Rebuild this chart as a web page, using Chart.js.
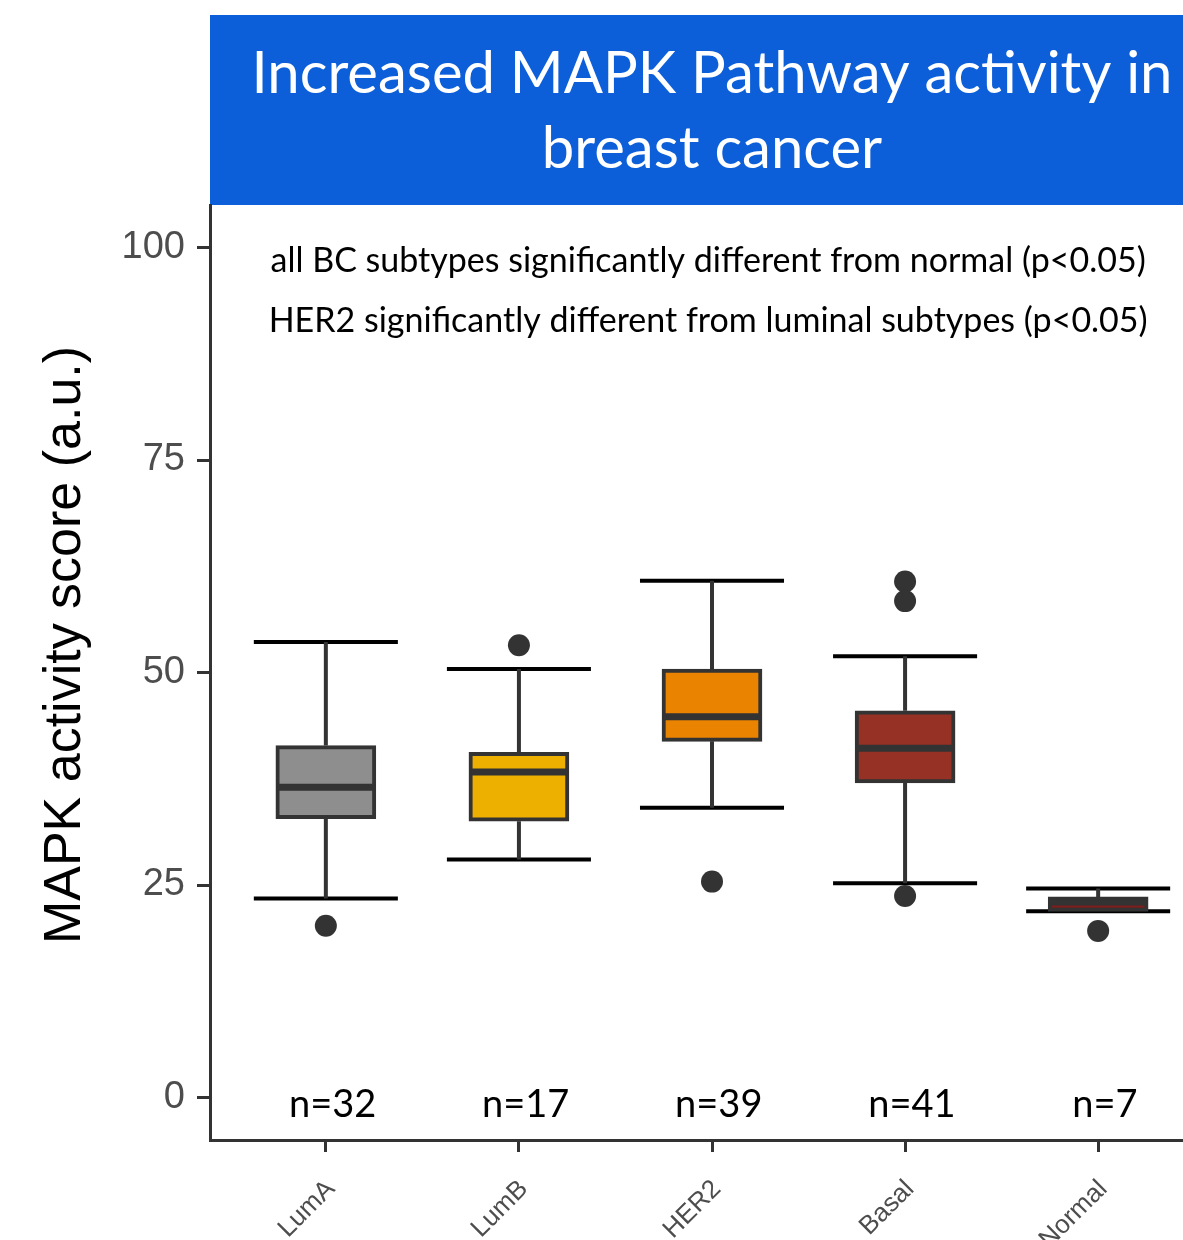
<!DOCTYPE html>
<html><head><meta charset="utf-8">
<script src="https://cdn.jsdelivr.net/npm/chart.js@4/dist/chart.umd.min.js"></script>
<style>html,body{margin:0;padding:0;background:#fff;overflow:hidden;}#wrap{width:1240px;height:1240px;}</style>
</head><body><div id="wrap"><canvas id="c" width="1240" height="1240"></canvas></div>
<script>
const categories = ['LumA', 'LumB', 'HER2', 'Basal', 'Normal'];
const whiskerLow = [23.4, 28.0, 34.1, 25.2, 21.9];
const q1 = [32.8, 32.5, 41.9, 37.0, 21.9];
const median = [36.5, 38.3, 44.8, 41.1, 23.0];
const q3 = [41.4, 40.6, 50.4, 45.5, 23.6];
const whiskerHigh = [53.6, 50.4, 60.8, 51.9, 24.6];
const outliers = [[20.2], [53.2], [25.4], [60.7, 58.4, 23.7], [19.6]];
const sampleSizes = [32, 17, 39, 41, 7];
const yTicks = [0, 25, 50, 75, 100];
const titleLines = ['Increased MAPK Pathway activity in', 'breast cancer'];
const notes = ['all BC subtypes significantly different from normal (p<0.05)',
               'HER2 significantly different from luminal subtypes (p<0.05)'];
const yTitle = 'MAPK activity score (a.u.)';
const boxColors = ['#8E8E8E', '#EDB000', '#E98300', '#963125', '#7A1E1E'];

const BOX_HALF = 0.25, CAP_HALF = 0.373;
const INK = '#333333';

function segments(list) {
  const out = [];
  list.forEach(([a, b]) => { out.push(a, b, {x: b.x, y: null}); });
  return out;
}

const whiskerData = segments(categories.flatMap((c, i) => [
  [{x: i, y: q3[i]}, {x: i, y: whiskerHigh[i]}],
  [{x: i, y: q1[i]}, {x: i, y: whiskerLow[i]}]
]));
const capData = segments(categories.flatMap((c, i) => [
  [{x: i - CAP_HALF, y: whiskerHigh[i]}, {x: i + CAP_HALF, y: whiskerHigh[i]}],
  [{x: i - CAP_HALF, y: whiskerLow[i]}, {x: i + CAP_HALF, y: whiskerLow[i]}]
]));
const medianData = segments(categories.map((c, i) =>
  [{x: i - BOX_HALF, y: median[i]}, {x: i + BOX_HALF, y: median[i]}]));
const boxData = categories.map((c, i) => ({x: i, y: [q1[i], q3[i]]}));
const outlierData = outliers.flatMap((arr, i) => arr.map(v => ({x: i, y: v})));

const bannerPlugin = {
  id: 'banner',
  beforeDraw(chart) {
    const {ctx, chartArea: a} = chart;
    ctx.save();
    ctx.fillStyle = '#0D5FD9';
    ctx.fillRect(a.left, 15, a.right - a.left, a.top - 15);
    ctx.fillStyle = '#ffffff';
    ctx.font = '58px Lato';
    ctx.textAlign = 'center';
    ctx.textBaseline = 'alphabetic';
    const cx = (a.left + a.right) / 2;
    ctx.fillText(titleLines[0], cx, 93);
    ctx.fillText(titleLines[1], cx, 168);
    // y axis title
    ctx.fillStyle = '#000000';
    ctx.font = '52px "Liberation Sans"';
    ctx.textBaseline = 'middle';
    ctx.translate(66, 645);
    ctx.rotate(-Math.PI / 2);
    ctx.fillText(yTitle, 0, 0);
    ctx.restore();
  },
  afterDatasetsDraw(chart) {
    const {ctx, scales: {x, y}} = chart;
    ctx.save();
    ctx.fillStyle = '#000000';
    ctx.textAlign = 'center';
    ctx.textBaseline = 'middle';
    ctx.font = '34px Lato';
    ctx.fillText(notes[0], x.getPixelForValue(1.98), y.getPixelForValue(98.4));
    ctx.fillText(notes[1], x.getPixelForValue(1.98), y.getPixelForValue(91.3));
    ctx.font = '38px Lato';
    sampleSizes.forEach((n, i) => {
      ctx.fillText('n=' + n, x.getPixelForValue(i + 0.035), y.getPixelForValue(-0.9));
    });
    ctx.restore();
  }
};

function build() {
  new Chart(document.getElementById('c'), {
    type: 'bar',
    data: {
      datasets: [
        {type: 'scatter', data: outlierData, pointRadius: 11, pointHoverRadius: 11,
         backgroundColor: INK, borderWidth: 0, order: 0},
        {type: 'line', data: medianData, borderColor: INK, borderWidth: 7, pointRadius: 0,
         fill: false, spanGaps: false, borderCapStyle: 'butt', order: 1},
        {type: 'bar', data: boxData, backgroundColor: boxColors, borderColor: INK,
         borderWidth: 4, borderSkipped: false, barThickness: 100, order: 2},
        {type: 'line', data: whiskerData, borderColor: INK, borderWidth: 4, pointRadius: 0,
         fill: false, spanGaps: false, borderCapStyle: 'butt', order: 3},
        {type: 'line', data: capData, borderColor: '#000000', borderWidth: 4, pointRadius: 0,
         fill: false, spanGaps: false, borderCapStyle: 'butt', order: 3}
      ]
    },
    options: {
      responsive: false,
      animation: false,
      layout: {padding: {top: 205, right: 26, left: 0, bottom: 0}},
      plugins: {legend: {display: false}, tooltip: {enabled: false}, title: {display: false}},
      scales: {
        x: {
          type: 'linear', min: -0.6, max: 4.6, offset: false,
          afterBuildTicks: s => { s.ticks = categories.map((c, i) => ({value: i})); },
          afterFit: s => { s.height = 100; },
          grid: {display: true, drawOnChartArea: false, offset: false, tickLength: 12,
                 tickColor: INK, tickWidth: 3},
          border: {display: true, color: INK, width: 3},
          ticks: {autoSkip: false, minRotation: 45, maxRotation: 45, padding: 22, labelOffset: 5,
                  color: '#4D4D4D', font: {family: 'Liberation Sans', size: 26},
                  callback: v => categories[v]}
        },
        y: {
          type: 'linear', min: -5, max: 105,
          afterBuildTicks: s => { s.ticks = yTicks.map(v => ({value: v})); },
          afterFit: s => { s.width = 210; },
          grid: {display: true, drawOnChartArea: false, tickLength: 13, tickColor: INK, tickWidth: 3},
          border: {display: true, color: INK, width: 3},
          ticks: {padding: 12, color: '#4D4D4D', font: {family: 'Liberation Sans', size: 38}},
          title: {display: false, text: yTitle}
        }
      }
    },
    plugins: [bannerPlugin]
  });
}
Promise.all([document.fonts.load('58px Lato'), document.fonts.load('24px "Liberation Sans"')])
  .then(build, build);
</script>
</body></html>
